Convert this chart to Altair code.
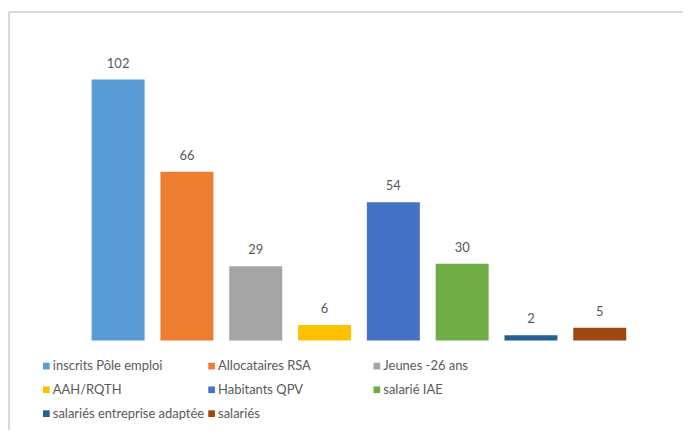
import altair as alt
import pandas as pd

categories = ["inscrits Pôle emploi", "Allocataires RSA", "Jeunes  -26 ans", "AAH/RQTH",
              "Habitants QPV", "salarié IAE", "salariés entreprise adaptée", "salariés"]
values = [102, 66, 29, 6, 54, 30, 2, 5]
colors = ["#5B9BD5", "#ED7D31", "#A5A5A5", "#FFC000", "#4472C4", "#70AD47", "#255E91", "#9E480E"]

df = pd.DataFrame({"cat": categories, "val": values})

W, H = 676, 423
FONT = "Lato"

x = alt.X("cat:N", sort=categories, axis=None,
          scale=alt.Scale(range=[82, 619], paddingInner=0.23, paddingOuter=0))
y = alt.Y("val:Q", axis=None, scale=alt.Scale(domain=[0, 102], range=[333, 71]))

bars = alt.Chart(df).mark_bar().encode(
    x=x, y=y, y2=alt.datum(0),
    color=alt.Color("cat:N", sort=categories,
                    scale=alt.Scale(domain=categories, range=colors),
                    legend=alt.Legend(title=None, orient="none", legendX=30, legendY=352,
                                      columns=3, direction="horizontal",
                                      symbolType="square", symbolSize=45,
                                      symbolStrokeWidth=0,
                                      labelFont=FONT, labelFontSize=13, labelColor="#595959",
                                      rowPadding=10, columnPadding=0, gridAlign="all",
                                      labelOffset=0, labelLimit=300)),
)

labels = alt.Chart(df).mark_text(baseline="bottom", dy=-9, font=FONT, fontSize=13,
                                 color="#595959").encode(
    x=x, y=y, text="val:Q")

frame_top = alt.Chart(df).mark_rule(color="#d9d9d9", strokeWidth=1).encode(
    x=alt.value(-1), x2=alt.value(W), y=alt.value(3))
frame_left = alt.Chart(df).mark_rule(color="#d9d9d9", strokeWidth=1).encode(
    x=alt.value(-1), y=alt.value(3), y2=alt.value(H))

chart = alt.layer(frame_top, frame_left, bars, labels).properties(
    width=W, height=H, padding=0, background="white"
).configure_view(strokeWidth=0, stroke="transparent")

chart.save("out.html", embed_options={"renderer": "svg", "actions": False})
